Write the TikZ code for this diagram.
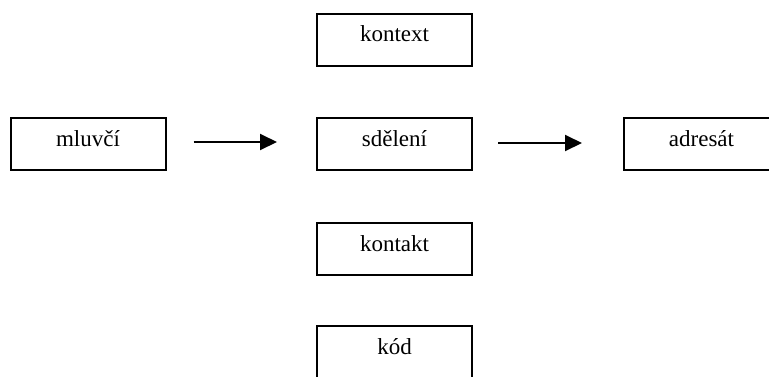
\documentclass[tikz,border=0pt]{standalone}
\usepackage{fontspec}
\setmainfont{Liberation Serif}
\usetikzlibrary{arrows.meta}
\begin{document}
\begin{tikzpicture}[x=1pt,y=1pt,
  box/.style={draw, line width=2pt, minimum width=155pt, minimum height=52pt,
    inner sep=0pt, text height=16pt, text depth=12pt,
    font=\fontsize{23}{27}\selectfont},
  flow/.style={line width=2pt, -{Triangle[length=17pt,width=16pt]}}]
  \useasboundingbox (0,0) rectangle (769,-376);
  \clip (0,0) rectangle (769,-376);
  % Jakobson's model: participants in a row, factors in a column
  \node[box] (mluvci)  at (88,-144)    {mluvčí};
  \node[box] (kontext) at (394.5,-39.5) {kontext};
  \node[box] (sdeleni) at (394.5,-144)  {sdělení};
  \node[box] (adresat) at (701.5,-144)  {adresát};
  \node[box] (kontakt) at (394.5,-249)  {kontakt};
  \node[box] (kod)     at (394.5,-352)  {kód};
  % arrows between the participants
  \draw[flow, shorten <=27pt, shorten >=39pt]
    ([yshift=2pt]mluvci.east) -- ([yshift=2pt]sdeleni.west);
  \draw[flow, shorten <=25pt, shorten >=41pt]
    ([yshift=1pt]sdeleni.east) -- ([yshift=1pt]adresat.west);
\end{tikzpicture}
\end{document}
